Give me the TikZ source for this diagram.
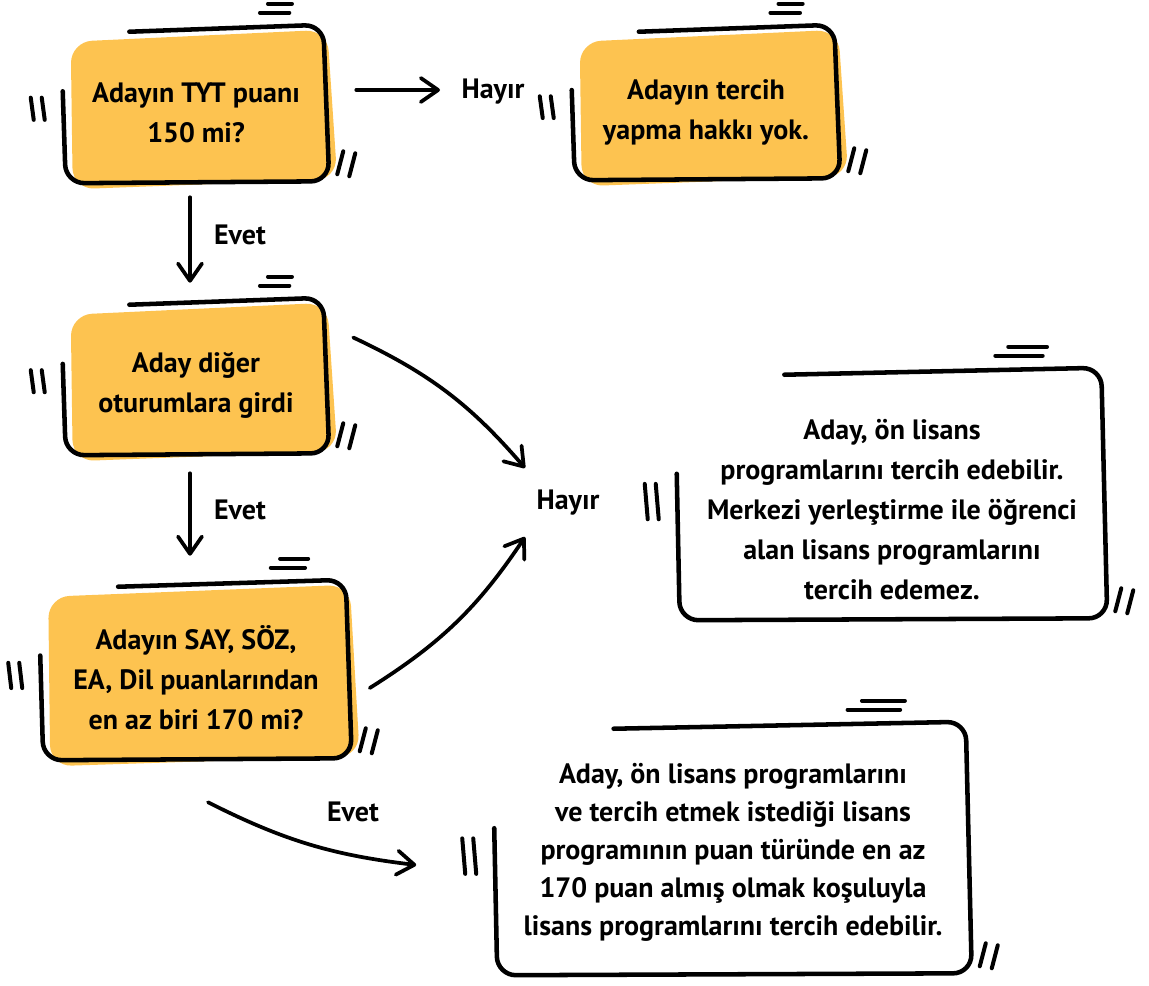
\documentclass[tikz,border=0pt]{standalone}
\usepackage{fontspec}
\setmainfont{PT Sans}
\usetikzlibrary{arrows.meta, calc, backgrounds}

\definecolor{sunny}{RGB}{253,195,80}

% yellow paint behind a box (optional arg: lift in px)
\newcommand{\sketchfill}[2][0]{%
  \coordinate (nw) at ([shift={(0,-#1)}]#2.north west);
  \coordinate (ne) at ([shift={(0,-#1)}]#2.north east);
  \coordinate (se) at ([shift={(0,-#1)}]#2.south east);
  \coordinate (sw) at ([shift={(0,-#1)}]#2.south west);
  \begin{pgfonlayer}{background}
    \fill[sunny, rounded corners=16pt]
      ($(nw)+(8,17)$) -- ($(ne)+(-2,5)$) -- ($(se)+(8,-4)$) -- ($(sw)+(10,6)$) -- cycle;
  \end{pgfonlayer}}

% open hand-drawn outline with the little marks round it
\newcommand{\sketchframe}[2][0]{%
  \coordinate (nw) at ([shift={(0,-#1)}]#2.north west);
  \coordinate (ne) at ([shift={(0,-#1)}]#2.north east);
  \coordinate (se) at ([shift={(0,-#1)}]#2.south east);
  \coordinate (sw) at ([shift={(0,-#1)}]#2.south west);
  \draw[sketchline, rounded corners=14pt]
    ($(nw)!0.25!(ne)+(0,7)$) -- ($(ne)+(-6,0)$) -- ($(se)+(0,-2)$)
    -- ($(sw)+(3,0)$) -- ($(nw)!0.42!(sw)$);
  \draw[scratch] ($(nw)!0.77!(ne)+(0,-21)$) -- ($(nw)!0.86!(ne)+(0,-21)$);
  \draw[scratch] ($(nw)!0.74!(ne)+(0,-12)$) -- ($(nw)!0.85!(ne)+(0,-12)$);
  \draw[scratch] ($(nw)!0.46!(sw)+(-32,0)$) -- ($(nw)!0.60!(sw)+(-29,0)$);
  \draw[scratch] ($(nw)!0.46!(sw)+(-21,0)$) -- ($(nw)!0.60!(sw)+(-18,0)$);
  \draw[scratch] ($(se)+(14,-32)$) -- ($(se)+(8,-9)$);
  \draw[scratch] ($(se)+(26,-30)$) -- ($(se)+(20,-7)$);
}

\begin{document}
\begin{tikzpicture}[
        x=0.75pt, y=-0.75pt,
        box/.style={rectangle, inner sep=0pt, align=center, font=\bfseries\fontsize{21}{30}\selectfont},
        answer/.style={inner sep=2pt, font=\bfseries\fontsize{21}{24}\selectfont},
        arrow/.style={-{Straight Barb[length=13pt, width=18pt, round]}, line width=2.8pt, line cap=round},
        sketchline/.style={line width=3.4pt, line cap=round, line join=round},
        scratch/.style={line width=3pt, line cap=round}
    ]
        \useasboundingbox (0,0) rectangle (1149,985);

        % Question boxes
        \node[box, minimum width=199.5pt, minimum height=118.5pt] (tyt) at (196,113) {Adayın TYT puanı\\150 mi?};
        \node[box, minimum width=201pt, minimum height=116.25pt] (noright) at (706,112) {Adayın tercih\\yapma hakkı yok.};
        \node[box, minimum width=199.5pt, minimum height=117.75pt] (sessions) at (196,385) {Aday diğer\\oturumlara girdi};
        \node[box, minimum width=233.25pt, minimum height=135pt] (scores) at (196,678) {Adayın SAY, SÖZ,\\EA, Dil puanlarından\\en az biri 170 mi?};

        % Result boxes
        \node[box, minimum width=322.5pt, minimum height=189pt] (associate) at (892,510)
            {Aday, ön lisans\\programlarını tercih edebilir.\\Merkezi yerleştirme ile öğrenci\\alan lisans programlarını\\tercih edemez.};
        \node[box, font=\bfseries\fontsize{21}{28.5}\selectfont, minimum width=357.75pt, minimum height=189.75pt] (bachelor) at (733,852)
            {Aday, ön lisans programlarını\\ve tercih etmek istediği lisans\\programının puan türünde en az\\170 puan almış olmak koşuluyla\\lisans programlarını tercih edebilir.};

        \sketchfill[9]{tyt}
        \sketchfill[9.5]{noright}
        \sketchfill[8.5]{sessions}
        \sketchfill[8]{scores}
        \sketchframe[9]{tyt}
        \sketchframe[9.5]{noright}
        \sketchframe[8.5]{sessions}
        \sketchframe[8]{scores}
        \sketchframe[16]{associate}
        \sketchframe[3.5]{bachelor}

        % Answer labels
        \node[answer] (tytno) at (493,92) {Hayır};
        \node[answer] (evetA) at (240,235) {Evet};
        \node[answer] (evetB) at (240,510) {Evet};
        \node[answer] (scoresno) at (568,503) {Hayır};
        \node[answer] (evetC) at (353,812) {Evet};

        % Arrows
        \draw[arrow] ([shift={(27,-23)}]tyt.east) -- ([shift={(-53,-2)}]tytno.center);
        \draw[arrow] ([shift={(-6,5)}]tyt.south) -- ([shift={(-6,-23.5)}]sessions.north);
        \draw[arrow] ([shift={(-6,9.5)}]sessions.south) -- ([shift={(-6,-32)}]scores.north);
        \draw[arrow] ([shift={(24,-47.5)}]sessions.east) to[bend left=12] ([shift={(-43,-35)}]scoresno.center);
        \draw[arrow] ([shift={(18,10)}]scores.east) to[bend right=12] ([shift={(-43,34)}]scoresno.center);
        \draw[arrow] ([shift={(12,34)}]scores.south) to[bend right=10] ([shift={(-78,13)}]bachelor.west);
    \end{tikzpicture}
\end{document}
